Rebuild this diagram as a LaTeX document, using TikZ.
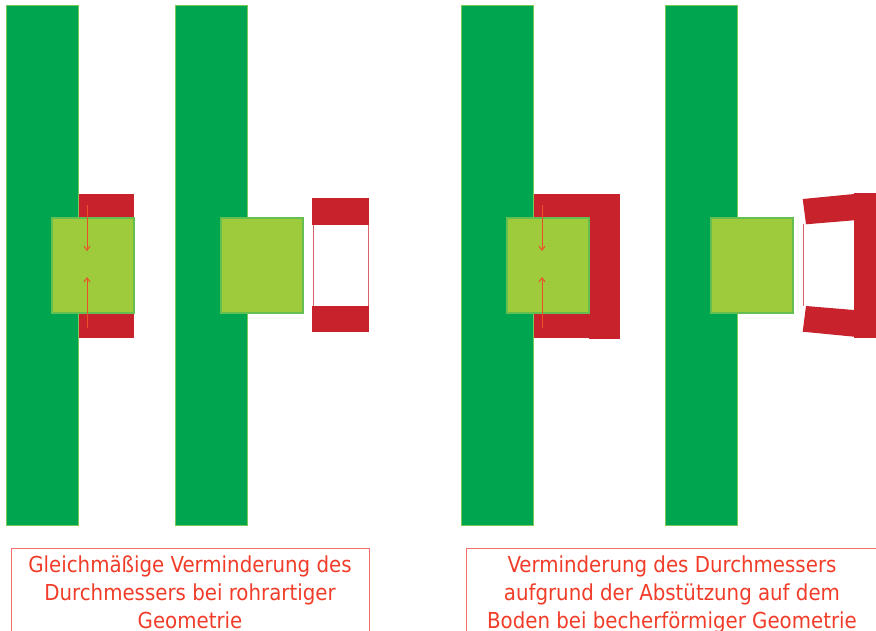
\documentclass[tikz,border=0pt]{standalone}
\usepackage{fontspec}
\setmainfont{DejaVu Sans Condensed}
\usetikzlibrary{arrows.meta}
\definecolor{darkgr}{RGB}{0,165,80}
\definecolor{bardge}{RGB}{120,200,90}
\definecolor{lightgr}{RGB}{157,203,60}
\definecolor{sqedge}{RGB}{100,190,80}
\definecolor{redpart}{RGB}{200,35,45}
\definecolor{arrowc}{RGB}{235,80,40}
\definecolor{txtred}{RGB}{240,60,40}
\definecolor{boxred}{RGB}{240,110,110}
\tikzset{
  bar/.style={fill=darkgr,draw=bardge,line width=0.8pt},
  piece/.style={fill=lightgr,draw=sqedge,line width=1.2pt},
  redfill/.style={fill=redpart,draw=none},
  redthin/.style={draw=redpart!70,line width=0.8pt},
  press/.style={draw=arrowc,line width=1pt,-{Straight Barb[length=4pt,width=6pt]}},
  boxline/.style={draw=boxred,line width=0.8pt},
  caption/.style={text=txtred,align=center,font=\fontsize{22}{28}\selectfont,anchor=north,inner sep=0pt}
}
\begin{document}
\begin{tikzpicture}[x=1pt,y=-1pt]
\useasboundingbox (0,0) rectangle (876,630);
% --- left pair
\path[redfill] (78,194) rectangle (134,338);
\draw[bar] (6,5.5) rectangle (78,525);
\draw[piece] (52,218) rectangle (134,313);
\coordinate (a1s) at (87,205); \coordinate (a1e) at (87,251);
\coordinate (a2s) at (87,328); \coordinate (a2e) at (87,277);
\draw[press] (a1s) -- (a1e);
\draw[press] (a2s) -- (a2e);
\draw[bar] (175,5.5) rectangle (247,525);
\draw[piece] (221,218) rectangle (303,313);
\path[redfill] (312,198) rectangle (369,225);
\path[redfill] (312,306) rectangle (369,332);
\draw[redthin] (313,225) -- (313,306);
\draw[redthin] (368.6,225) -- (368.6,306);
% --- right pair
\path[redfill] (532,194) rectangle (620,338);
\path[redfill] (589,336) rectangle (620,339);
\draw[bar] (461,5.5) rectangle (533,525);
\draw[piece] (507,218) rectangle (589,313);
\coordinate (b1s) at (542,205); \coordinate (b1e) at (542,251);
\coordinate (b2s) at (542,328); \coordinate (b2e) at (542,277);
\draw[press] (b1s) -- (b1e);
\draw[press] (b2s) -- (b2e);
\draw[bar] (665,5.5) rectangle (737,525);
\draw[piece] (711,218) rectangle (793,313);
\path[redfill] (854,193) rectangle (876,338);
\path[redfill] (802.7,199) -- (854,194) -- (854,220.3) -- (806,224.3) -- cycle;
\path[redfill] (806,306) -- (854,310) -- (854,336.7) -- (802.7,331.7) -- cycle;
\draw[redthin] (803.3,224) -- (803.3,306);
% --- captions
\draw[boxline] (11,640) -- (11,548) -- (369,548) -- (369,640);
\node[caption] (cap1) at (190,556) {Gleichmäßige Verminderung des\\Durchmessers bei rohrartiger\\Geometrie};
\draw[boxline] (466,640) -- (466,548) -- (880,548);
\node[caption] (cap2) at (672,556) {Verminderung des Durchmessers\\aufgrund der Abstützung auf dem\\Boden bei becherförmiger Geometrie};
\end{tikzpicture}
\end{document}
